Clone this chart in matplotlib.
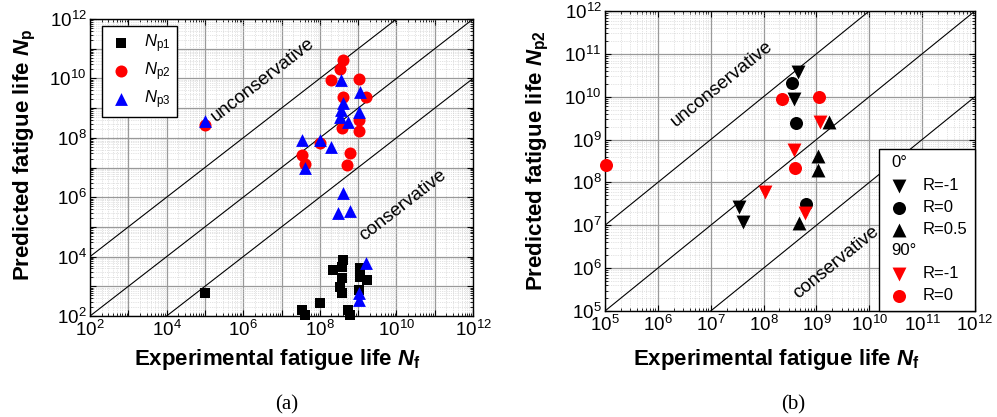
import numpy as np
import matplotlib
matplotlib.use('Agg')
import matplotlib.pyplot as plt
import matplotlib.text as mtext
from matplotlib.ticker import LogLocator, NullFormatter, FuncFormatter
from matplotlib.legend_handler import HandlerBase

plt.rcParams['font.family'] = 'sans-serif'
plt.rcParams['font.sans-serif'] = ['Liberation Sans']
plt.rcParams['mathtext.fontset'] = 'custom'
plt.rcParams['mathtext.rm'] = 'Liberation Sans'
plt.rcParams['mathtext.it'] = 'Liberation Sans:italic'
plt.rcParams['mathtext.bf'] = 'Liberation Sans:bold'
plt.rcParams['mathtext.bfit'] = 'Liberation Sans:italic:bold'

# (a) predicted vs experimental life, three models
np1_nf = [4.1e8, 2.2e8, 3.7e8, 1.1e9, 1.7e9, 1.1e9, 3.7e8, 3.4e8, 3.7e8, 1.0e8,
          3.5e7, 4.1e7, 5.5e8, 6.2e8, 1.07e9, 1.0e5]
np1_np = [7.8e3, 3.5e3, 4.6e3, 4.1e3, 1.6e3, 2.1e3, 1.9e3, 980, 575, 270,
          160, 107, 160, 107, 760, 600]

np2_nf = [4.1e8, 3.4e8, 2.0e8, 1.07e9, 4.1e8, 1.6e9, 1.07e9, 3.7e8, 1.07e9, 1.0e8,
          3.5e7, 4.1e7, 6.2e8, 5.0e8, 1.0e5]
np2_np = [4.2e10, 2.0e10, 8.9e9, 9.5e9, 2.4e9, 2.4e9, 4.0e8, 2.2e8, 1.7e8, 6.5e7,
          2.6e7, 1.3e7, 3.0e7, 1.2e7, 2.7e8]

np3_nf = [3.5e8, 1.1e9, 4.1e8, 3.5e8, 1.07e9, 3.4e8, 5.5e8, 3.4e7, 1.0e8, 2.0e8,
          4.1e7, 4.1e8, 3.0e8, 6.2e8, 1.6e9, 1.07e9, 1.07e9, 1.0e5]
np3_np = [8.9e9, 3.5e9, 1.45e9, 8.7e8, 7.6e8, 5.1e8, 3.5e8, 8.5e7, 8.5e7, 5.0e7,
          9.3e6, 1.4e6, 3.0e5, 3.5e5, 6.2e3, 575, 350, 3.7e8]

# (b) Np2 split by orientation and stress ratio
d0_rm1_nf = [4.4e8, 3.7e8, 3.5e7, 4.0e7]
d0_rm1_np = [3.8e10, 8.7e9, 2.7e7, 1.2e7]
d0_r0_nf = [3.4e8, 4.2e8, 6.3e8]
d0_r0_np = [2.1e10, 2.5e9, 3.2e7]
d0_r05_nf = [1.7e9, 1.07e9, 1.07e9, 4.7e8]
d0_r05_np = [2.6e9, 4.2e8, 1.9e8, 1.15e7]
d90_rm1_nf = [1.15e9, 3.7e8, 1.05e8, 6.0e8]
d90_rm1_np = [2.6e9, 5.8e8, 6.0e7, 1.95e7]
d90_r0_nf = [2.2e8, 1.1e9, 3.9e8, 1.05e5]
d90_r0_np = [8.7e9, 9.8e9, 2.2e8, 2.6e8]

factors = [100, 1, 0.01]


class Header:
    def __init__(self, text):
        self.text = text


class HeaderHandler(HandlerBase):
    def create_artists(self, legend, orig_handle, xdescent, ydescent,
                       width, height, fontsize, trans):
        t = mtext.Text(-xdescent + 0.2 * width, -ydescent + height / 2,
                       orig_handle.text, fontsize=fontsize,
                       ha='left', va='center', transform=trans)
        return [t]


def style_axes(ax, lo, hi, step):
    ax.set_xscale('log')
    ax.set_yscale('log')
    ax.set_xlim(lo, hi)
    ax.set_ylim(lo, hi)

    def fmt(v, pos):
        e = int(round(np.log10(v)))
        if (e - int(round(np.log10(lo)))) % step:
            return ''
        return r'$\mathdefault{10^{%d}}$' % e

    for axis in (ax.xaxis, ax.yaxis):
        axis.set_major_locator(LogLocator(base=10, numticks=30))
        axis.set_minor_locator(LogLocator(base=10, subs=np.arange(2, 10), numticks=30))
        axis.set_major_formatter(FuncFormatter(fmt))
        axis.set_minor_formatter(NullFormatter())
    ax.set_axisbelow(True)
    ax.grid(which='minor', color='#c8c8c8', lw=0.5, ls=':')
    ax.grid(which='major', color='#999999', lw=0.9, ls='-')
    ax.tick_params(which='both', direction='in', top=True, right=True,
                   labelsize=13.5, pad=2.5)
    ax.tick_params(which='major', length=4, width=0.8)
    ax.tick_params(which='minor', length=2, width=0.6)
    for s in ax.spines.values():
        s.set_linewidth(1.0)
    xs = np.array([lo, hi])
    for f in factors:
        ax.plot(xs, xs * f, color='black', lw=0.8, zorder=2)


def line_angle(fig, ax):
    pos = ax.get_position()
    w = pos.width * fig.get_figwidth()
    h = pos.height * fig.get_figheight()
    xdec = np.log10(ax.get_xlim()[1] / ax.get_xlim()[0])
    ydec = np.log10(ax.get_ylim()[1] / ax.get_ylim()[0])
    return np.degrees(np.arctan2(h / ydec, w / xdec))


fig = plt.figure(figsize=(9.97, 4.17), dpi=100)
ax1 = fig.add_axes([0.0903, 0.2422, 0.3842, 0.7122])
ax2 = fig.add_axes([0.6068, 0.2542, 0.3711, 0.7194])

# ---- (a)
style_axes(ax1, 1e2, 1e12, 2)
ax1.scatter(np1_nf, np1_np, marker='s', s=60, color='black', lw=0,
            label=r'$N_\mathrm{p1}$', zorder=3, clip_on=False)
ax1.scatter(np2_nf, np2_np, marker='o', s=75, color='#ff0000', lw=0,
            label=r'$N_\mathrm{p2}$', zorder=4, clip_on=False)
ax1.scatter(np3_nf, np3_np, marker='^', s=85, color='#0000ff', lw=0,
            label=r'$N_\mathrm{p3}$', zorder=5, clip_on=False)
ang1 = line_angle(fig, ax1)
ax1.text(10**6.50, 10**9.95, 'unconservative', rotation=ang1, fontsize=13.5,
         ha='center', va='center', rotation_mode='anchor')
ax1.text(10**10.17, 10**5.74, 'conservative', rotation=ang1, fontsize=13.5,
         ha='center', va='center', rotation_mode='anchor')
ax1.set_xlabel(r'Experimental fatigue life $\mathbfit{N}_\mathbf{f}$',
               fontsize=16, fontweight='bold')
ax1.set_ylabel(r'Predicted fatigue life $\mathbfit{N}_\mathbf{p}$',
               fontsize=16, fontweight='bold')
ax1.xaxis.set_label_coords(0.49, -0.105)
ax1.yaxis.set_label_coords(-0.135, 0.542)
leg1 = ax1.legend(loc='upper left', bbox_to_anchor=(0.031, 0.976), borderaxespad=0,
                  fontsize=12, fancybox=False, framealpha=1, edgecolor='black',
                  handletextpad=0.6, labelspacing=0.35, borderpad=0.35,
                  handlelength=1.6)
leg1.get_frame().set_linewidth(1.0)

# ---- (b)
style_axes(ax2, 1e5, 1e12, 1)
kw = dict(lw=0, clip_on=False)
h1 = ax2.scatter(d0_rm1_nf, d0_rm1_np, marker='v', s=100, color='black', zorder=3, **kw)
h2 = ax2.scatter(d0_r0_nf, d0_r0_np, marker='o', s=88, color='black', zorder=3, **kw)
h3 = ax2.scatter(d0_r05_nf, d0_r05_np, marker='^', s=100, color='black', zorder=3, **kw)
h4 = ax2.scatter(d90_rm1_nf, d90_rm1_np, marker='v', s=100, color='#ff0000', zorder=4, **kw)
h5 = ax2.scatter(d90_r0_nf, d90_r0_np, marker='o', s=88, color='#ff0000', zorder=4, **kw)
ang2 = line_angle(fig, ax2)
ax2.text(10**7.21, 10**10.30, 'unconservative', rotation=ang2, fontsize=13.5,
         ha='center', va='center', rotation_mode='anchor')
ax2.text(10**9.37, 10**6.13, 'conservative', rotation=ang2, fontsize=13.5,
         ha='center', va='center', rotation_mode='anchor')
ax2.set_xlabel(r'Experimental fatigue life $\mathbfit{N}_\mathbf{f}$',
               fontsize=16, fontweight='bold')
ax2.set_ylabel(r'Predicted fatigue life $\mathbfit{N}_\mathbf{p2}$',
               fontsize=16, fontweight='bold')
ax2.xaxis.set_label_coords(0.462, -0.12)
ax2.yaxis.set_label_coords(-0.145, 0.5)
handles = [Header('0°'), h1, h2, h3, Header('90°'), h4, h5]
labels = ['', 'R=-1', 'R=0', 'R=0.5', '', 'R=-1', 'R=0']
leg2 = ax2.legend(handles, labels, handler_map={Header: HeaderHandler()},
                  loc='lower right', borderaxespad=0, fontsize=12,
                  fancybox=False, framealpha=1, edgecolor='black',
                  handletextpad=0.6, labelspacing=0.42, borderpad=0.45,
                  handlelength=1.6)
leg2.get_frame().set_linewidth(1.0)

fig.text(287 / 997, 1 - 405 / 417, '(a)', family='Liberation Serif',
         fontsize=15, ha='center', va='center')
fig.text(793 / 997, 1 - 405 / 417, '(b)', family='Liberation Serif',
         fontsize=15, ha='center', va='center')

fig.savefig('out.png', dpi=100)
